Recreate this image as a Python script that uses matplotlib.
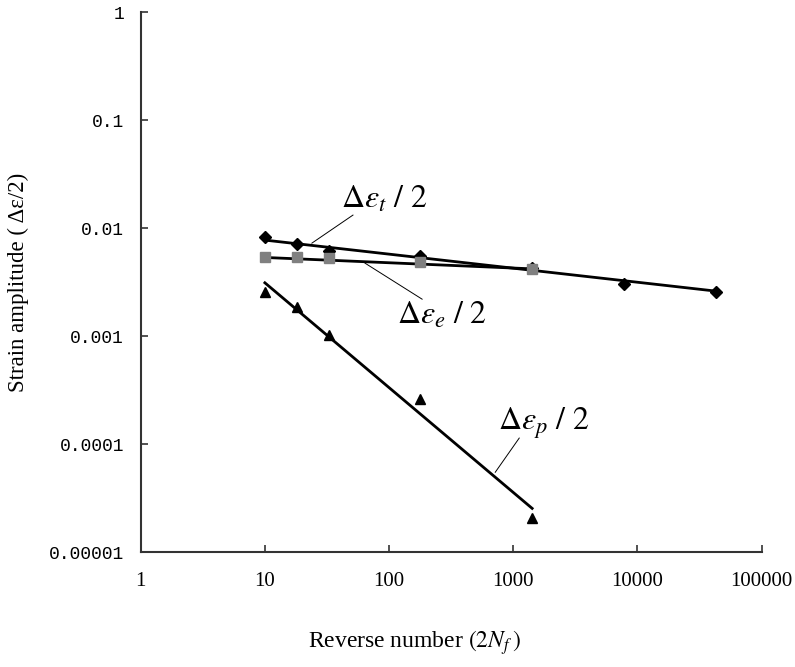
import matplotlib
matplotlib.use('Agg')
import matplotlib.pyplot as plt
import numpy as np

plt.rcParams['mathtext.fontset'] = 'stix'
plt.rcParams['font.family'] = 'Liberation Serif'

# data
reversals = [10, 18, 33, 178, 1420, 7850, 42600]
total_amp = [0.0082, 0.0071, 0.0062, 0.0055, 0.0043, 0.00303, 0.00259]
elastic_n = [10, 18, 33, 178, 1420]
elastic_amp = [0.00535, 0.00535, 0.00525, 0.00488, 0.00415]
plastic_n = [10, 18, 33, 178, 1420]
plastic_amp = [0.00257, 0.00186, 0.00102, 0.00026, 0.0000206]

# power-law trend lines  y = a * x**b
total_fit = (0.01045, -0.130)
elastic_fit = (0.00599, -0.049)
plastic_fit = (0.0291, -0.970)

yticks = [1e-5, 1e-4, 1e-3, 1e-2, 1e-1, 1]
ytick_labels = ['0.00001', '0.0001', '0.001', '0.01', '0.1', '1']
xticks = [1, 10, 100, 1000, 10000, 100000]
xtick_labels = ['1', '10', '100', '1000', '10000', '100000']

fig = plt.figure(figsize=(7.95, 6.67), dpi=100)
ax = fig.add_axes([0.177, 0.172, 0.781, 0.810])

def fit_line(fit, x0, x1):
    xs = np.logspace(np.log10(x0), np.log10(x1), 50)
    return xs, fit[0] * xs ** fit[1]

xs, ys = fit_line(total_fit, 10, 42600)
ax.plot(xs, ys, color='black', lw=2.0, zorder=2)
xs, ys = fit_line(elastic_fit, 10, 1420)
ax.plot(xs, ys, color='black', lw=2.0, zorder=2)
xs, ys = fit_line(plastic_fit, 10, 1420)
ax.plot(xs, ys, color='black', lw=2.0, zorder=2)

ax.plot(reversals, total_amp, 'D', color='black', ms=6, ls='none', zorder=3)
ax.plot(elastic_n, elastic_amp, 's', color='#808080', ms=7, ls='none', zorder=3)
ax.plot(plastic_n, plastic_amp, '^', color='black', ms=7.5, ls='none', zorder=3)

ax.set_xscale('log')
ax.set_yscale('log')
ax.set_xlim(1, 100000)
ax.set_ylim(1e-5, 1)

ax.set_xticks(xticks)
ax.set_xticklabels(xtick_labels, fontsize=15)
ax.set_yticks(yticks)
ax.set_yticklabels(ytick_labels, fontsize=13, family='Liberation Mono')
ax.minorticks_off()
ax.tick_params(direction='in', length=5, width=1.2, color='#333333', pad=14)
ax.tick_params(axis='y', pad=12)
for s in ['top', 'right']:
    ax.spines[s].set_visible(False)
for s in ['left', 'bottom']:
    ax.spines[s].set_linewidth(1.5)
    ax.spines[s].set_color('#333333')

ax.set_xlabel(r'Reverse number $(2N_f\,)$', fontsize=17)
ax.xaxis.set_label_coords(0.44, -0.14)
ax.set_ylabel('Strain amplitude ( Δε/2)', fontsize=16.5)
ax.yaxis.set_label_coords(-0.18, 0.5)

# labels with thin leader lines
labels = [r'$\Delta\varepsilon_t\ /\ 2$', r'$\Delta\varepsilon_e\ /\ 2$', r'$\Delta\varepsilon_p\ /\ 2$']
label_pos = [(91, 0.0182), (267, 0.00156), (1746, 0.000156)]
leaders = [((23.9, 51.2), (0.00726, 0.0132)),
           ((64, 184.5), (0.00474, 0.0022)),
           ((1117, 716), (0.000114, 0.000055))]
for txt, pos, (lx, ly) in zip(labels, label_pos, leaders):
    ax.text(pos[0], pos[1], txt, fontsize=23, ha='center', va='center')
    ax.plot(lx, ly, color='black', lw=0.7)

fig.savefig('out.png', dpi=100)
